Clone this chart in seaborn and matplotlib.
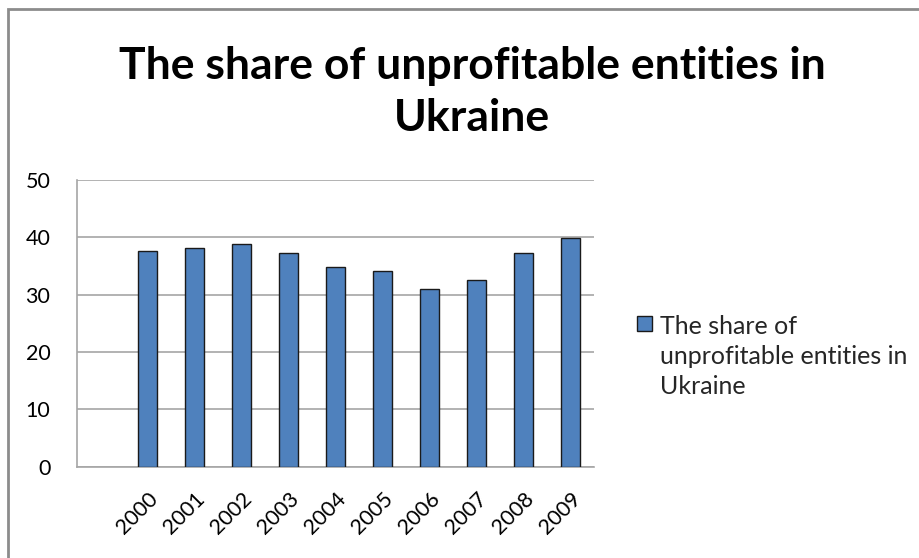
import pandas as pd
import seaborn as sns
import matplotlib.pyplot as plt
from matplotlib.patches import Rectangle

years = ["2000", "2001", "2002", "2003", "2004", "2005", "2006", "2007", "2008", "2009"]
share = [37.7, 38.1, 38.8, 37.2, 34.8, 34.1, 31.0, 32.6, 37.2, 39.9]
title = "The share of unprofitable entities in\nUkraine"
legend_label = "The share of\nunprofitable entities in\nUkraine"

df = pd.DataFrame({"year": years, "share": share})

sns.set_style("white")
plt.rcParams["font.family"] = ["Lato", "DejaVu Sans"]

fig = plt.figure(figsize=(9.2, 5.58), dpi=100)
ax = fig.add_axes([0.0834, 0.1636, 0.5626, 0.5138])

# Excel leaves an empty first slot on the category axis
order = [" "] + years
sns.barplot(data=df, x="year", y="share", order=order, color="#4F81BD",
            width=0.41, edgecolor="#1a1a1a", linewidth=1.0, saturation=1,
            label=legend_label, ax=ax, zorder=3)
if ax.get_legend() is not None:
    ax.get_legend().remove()

ax.set_xlim(-0.5, len(order) - 0.5)
ax.set_ylim(0, 50)
ax.set_yticks(range(0, 51, 10))
ax.yaxis.grid(True, color="#a6a6a6", linewidth=1.2, zorder=0)
ax.set_xlabel("")
ax.set_ylabel("")

for s in ["top", "right"]:
    ax.spines[s].set_visible(False)
for s in ["left", "bottom"]:
    ax.spines[s].set_color("#a6a6a6")
    ax.spines[s].set_linewidth(1.2)

ax.set_xticks(range(len(order)))
ax.set_xticklabels(order, rotation=45, ha="right", rotation_mode="anchor",
                   fontsize=15.5, color="black")
ax.tick_params(axis="x", which="major", length=0, pad=16)
ax.set_xticks([i - 0.5 for i in range(len(order) + 1)], minor=True)
ax.tick_params(axis="x", which="minor", length=7, color="#a6a6a6", width=1.2)
ax.tick_params(axis="y", length=8, color="#a6a6a6", width=1.2,
               labelsize=15.5, labelcolor="black", pad=11)

fs = 18
ls = 1.36
handles, labels = ax.get_legend_handles_labels()
leg = fig.legend(handles, labels, loc="upper left", bbox_to_anchor=(0.668, 0.475),
                 frameon=False, fontsize=fs, handlelength=0.58, handleheight=0.58,
                 handletextpad=0.35)
leg.get_texts()[0].set_linespacing(ls)
# put the legend square next to the first line of text, as Excel does
h = leg.legend_handles[0]
h.set_y(h.get_y() + fs * ls)

fig.text(0.513, 0.835, title, ha="center", va="center", fontsize=32,
         fontweight="bold", color="black", linespacing=1.38)

# chart area border (only top and left visible in the crop)
fig.patches.append(Rectangle((8 / 920, -0.1), 1.2, 1 - 9 / 558 + 0.1,
                             transform=fig.transFigure, fill=False,
                             edgecolor="#8c8c8c", linewidth=2))

plt.savefig("out.png", dpi=100)
